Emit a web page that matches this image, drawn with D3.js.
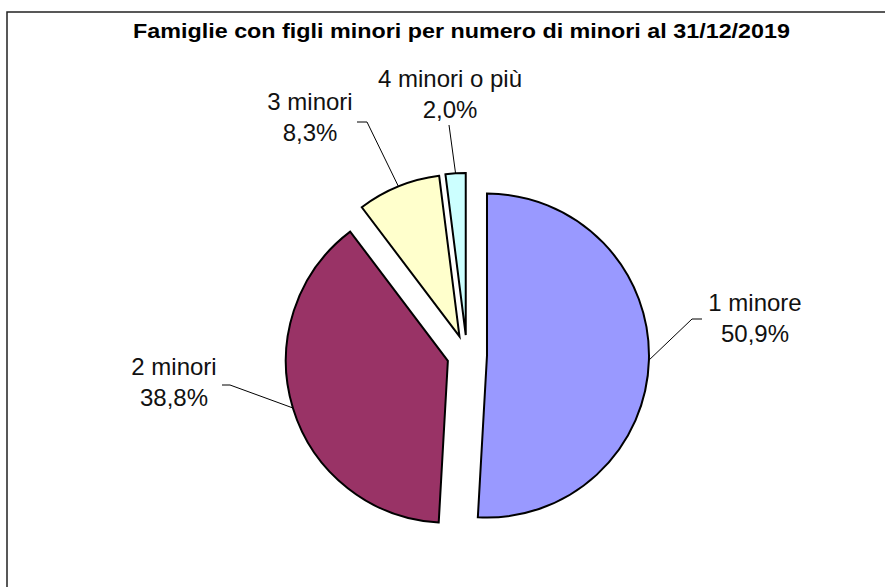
<!DOCTYPE html>
<html><head><meta charset="utf-8">
<script src="https://cdn.jsdelivr.net/npm/d3@7"></script>
<style>body{margin:0;background:#fff}svg{display:block}</style>
</head><body>
<svg id="c" width="885" height="587"></svg>
<script>
const categories = ["1 minore", "2 minori", "3 minori", "4 minori o più"];
const values = [50.9, 38.8, 8.3, 2.0];
const colors = ["#9999FF", "#993366", "#FFFFCC", "#CCFFFF"];
const title = "Famiglie con figli minori per numero di minori al 31/12/2019";

// label layout: label centre x, first baseline y, elbow point, leader start
const labelLayout = [
  {x: 755, y: 311, elbow: [692, 319], start: [702, 319]},
  {x: 174, y: 375, elbow: [230, 385], start: [222, 385]},
  {x: 310, y: 110, elbow: [367, 122], start: [357, 122]},
  {x: 450, y: 87,  elbow: [449, 125], start: [449, 125]}
];

const svg = d3.select("#c");
const fmt = v => d3.format(".1f")(v).replace(".", ",") + "%";

svg.append("rect").attr("x", 7).attr("y", 12).attr("width", 900).attr("height", 600)
  .attr("fill", "#fff").attr("stroke", "#222").attr("stroke-width", 1.5);

const tt = svg.append("text").attr("x", 0).attr("y", 0)
  .attr("text-anchor", "middle")
  .attr("font-family", "Liberation Sans, Arial, sans-serif")
  .attr("font-weight", "bold").attr("font-size", 20)
  .text(title);
const tw = tt.node().getComputedTextLength();
tt.attr("transform", `translate(461.5,38) scale(${657 / tw},1)`);

const cx = 467, cy = 355, R = 162, explode = 20;
const pie = d3.pie().sort(null).value(d => d)(values);
const arc = d3.arc().innerRadius(0).outerRadius(R);
const rim = d3.arc().innerRadius(R).outerRadius(R);

const g = svg.append("g").attr("transform", `translate(${cx},${cy})`);
pie.forEach((p, i) => {
  const m = (p.startAngle + p.endAngle) / 2;
  const dx = explode * Math.sin(m), dy = -explode * Math.cos(m);
  const sg = g.append("g").attr("transform", `translate(${dx},${dy})`);
  sg.append("path").attr("d", arc(p)).attr("fill", colors[i])
    .attr("stroke", "#000").attr("stroke-width", 2).attr("stroke-linejoin", "miter");
  const c = rim.centroid(p);
  const L = labelLayout[i];
  const end = [cx + dx + c[0], cy + dy + c[1]];
  svg.append("polyline")
    .attr("points", [L.start, L.elbow, end].map(q => q.join(",")).join(" "))
    .attr("fill", "none").attr("stroke", "#000").attr("stroke-width", 1);
  const t = svg.append("text").attr("text-anchor", "middle")
    .attr("font-family", "Liberation Sans, Arial, sans-serif")
    .attr("font-size", 24).attr("fill", "#111");
  t.append("tspan").attr("x", L.x).attr("y", L.y).text(categories[i]);
  t.append("tspan").attr("x", L.x).attr("y", L.y + 31).text(fmt(values[i]));
});
</script>
</body></html>
